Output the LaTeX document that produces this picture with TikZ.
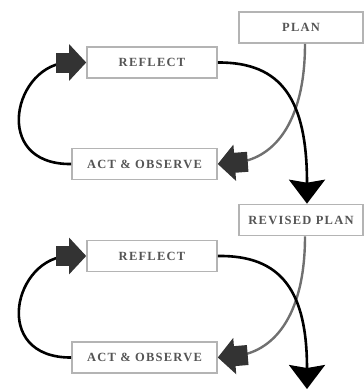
\documentclass[tikz,border=0pt]{standalone}
\usepackage{fontspec}
\setmainfont{Liberation Serif}
\usetikzlibrary{arrows.meta}
\newfontfamily\boxfont[LetterSpace=10]{Liberation Serif}
\definecolor{boxline}{HTML}{B4B4B4}
\definecolor{boxtext}{HTML}{555555}
\definecolor{headcol}{HTML}{333333}
\definecolor{greyline}{HTML}{707070}
\tikzset{
  x=1pt, y=-1pt,
  stagebox/.style={draw=boxline, line width=1.6pt, fill=white, inner sep=0pt,
    minimum height=31pt, font=\boxfont\bfseries\fontsize{12.5}{14}\selectfont, text=boxtext},
  fathead/.style={-{Rectangle[length=16pt, width=20pt, color=headcol, sep=-3pt]Triangle[length=17pt, width=36pt, color=headcol]}},
  downhead/.style={-{Stealth[length=24pt, width=36pt, inset=3pt]}},
  blackcurve/.style={draw=black, line width=2.6pt},
  greycurve/.style={draw=greyline, line width=2.4pt},
}
\begin{document}
\begin{tikzpicture}
\useasboundingbox (0,0) rectangle (364,389);
\node[stagebox, minimum width=124pt] (plan) at (301,27.5) {PLAN};
\node[stagebox, minimum width=130pt] (ref1) at (152,62.5) {REFLECT};
\node[stagebox, minimum width=145pt] (act1) at (144.5,164) {ACT \& OBSERVE};
\node[stagebox, minimum width=124pt] (rplan) at (301,220) {REVISED PLAN};
\node[stagebox, minimum width=130pt] (ref2) at (152,256) {REFLECT};
\node[stagebox, minimum width=145pt] (act2) at (144.5,357.5) {ACT \& OBSERVE};
\coordinate (planout) at ([xshift=4pt]plan.south);
\coordinate (rplanin) at ([xshift=6pt]rplan.north);
\coordinate (rplanout) at ([xshift=4pt]rplan.south);
\coordinate (endtip) at (307,389);
\draw[blackcurve, fathead] (act1.west) .. controls (-10,165) and (14,62.5) .. (ref1.west);
\draw[greycurve, fathead] (planout) .. controls (305,125) and (272,160) .. (act1.east);
\draw[blackcurve, downhead] (ref1.east) .. controls (282,62) and (307,100) .. (rplanin);
\draw[blackcurve, fathead] (act2.west) .. controls (-10,358) and (14,256) .. (ref2.west);
\draw[greycurve, fathead] (rplanout) .. controls (305,318) and (272,353) .. (act2.east);
\draw[blackcurve, downhead] (ref2.east) .. controls (282,255) and (307,292) .. (endtip);
\end{tikzpicture}
\end{document}
